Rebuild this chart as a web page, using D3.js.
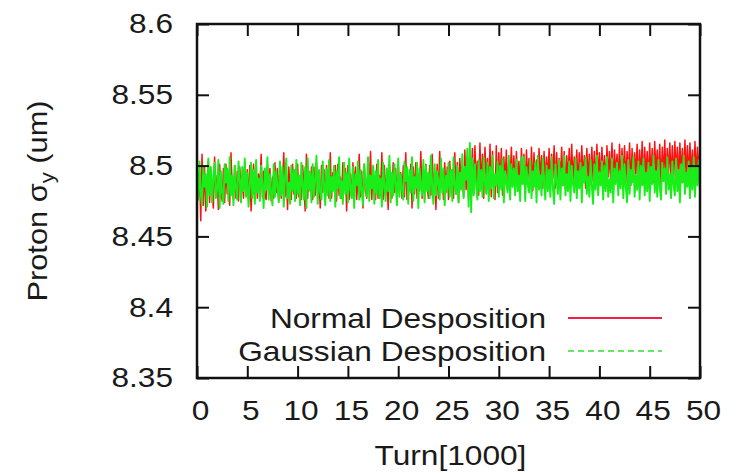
<!DOCTYPE html>
<html>
<head>
<meta charset="utf-8">
<script src="https://d3js.org/d3.v7.min.js"></script>
<style>
    body { margin: 0; background: #fff; }
    text { font-family: "Liberation Sans", Arial, sans-serif; fill: #1a1a1a; }
</style>
</head>
<body>
<div id="my_dataviz"></div>
<script>
// axis ticks
var xTicks = [0, 5, 10, 15, 20, 25, 30, 35, 40, 45, 50];
var yTicks = [8.35, 8.4, 8.45, 8.5, 8.55, 8.6];
var yTickLabels = ["8.35", "8.4", "8.45", "8.5", "8.55", "8.6"];
var turnRange = [0, 50];
var seriesNames = ["Normal Desposition", "Gaussian Desposition"];

// Normal desposition, sigma_y samples (evenly spaced over 0..50 kturns)
var normalSigma = [
    8.504, 8.476, 8.495, 8.461, 8.508, 8.472, 8.499, 8.468, 8.486, 8.503, 8.474, 8.497, 8.481, 8.470, 8.506, 8.478, 8.493, 8.469, 8.501, 8.483,
    8.475, 8.498, 8.474, 8.501, 8.480, 8.494, 8.472, 8.509, 8.485, 8.476, 8.500, 8.477, 8.496, 8.475, 8.499, 8.482, 8.490, 8.477, 8.502, 8.479,
    8.497, 8.476, 8.500, 8.468, 8.488, 8.501, 8.476, 8.499, 8.477, 8.494, 8.483, 8.508, 8.478, 8.496, 8.479, 8.476, 8.500, 8.486, 8.498, 8.475,
    8.492, 8.477, 8.502, 8.481, 8.498, 8.475, 8.500, 8.477, 8.489, 8.509, 8.478, 8.495, 8.469, 8.499, 8.484, 8.476, 8.501, 8.480, 8.497, 8.477,
    8.501, 8.478, 8.493, 8.476, 8.500, 8.486, 8.468, 8.508, 8.477, 8.496, 8.482, 8.499, 8.476, 8.499, 8.479, 8.502, 8.477, 8.491, 8.470, 8.500,
    8.481, 8.497, 8.476, 8.500, 8.487, 8.477, 8.509, 8.477, 8.495, 8.484, 8.500, 8.475, 8.501, 8.479, 8.492, 8.477, 8.502, 8.483, 8.498, 8.468,
    8.500, 8.476, 8.494, 8.477, 8.502, 8.485, 8.499, 8.476, 8.490, 8.508, 8.478, 8.496, 8.470, 8.501, 8.482, 8.477, 8.500, 8.487, 8.510, 8.476,
    8.497, 8.480, 8.476, 8.501, 8.477, 8.493, 8.484, 8.509, 8.476, 8.500, 8.479, 8.496, 8.469, 8.501, 8.486, 8.477, 8.502, 8.481, 8.498, 8.476,
    8.502, 8.483, 8.495, 8.477, 8.500, 8.478, 8.509, 8.476, 8.492, 8.485, 8.501, 8.470, 8.499, 8.480, 8.502, 8.477, 8.494, 8.482, 8.510, 8.477,
    8.498, 8.476, 8.501, 8.486, 8.477, 8.500, 8.479, 8.508, 8.483, 8.496, 8.469, 8.501, 8.477, 8.510, 8.485, 8.493, 8.476, 8.502, 8.481, 8.499,
    8.476, 8.503, 8.484, 8.497, 8.477, 8.509, 8.480, 8.502, 8.474, 8.505, 8.487, 8.494, 8.478, 8.511, 8.483, 8.499, 8.476, 8.508, 8.486, 8.512,
    8.480, 8.514, 8.488, 8.503, 8.479, 8.516, 8.484, 8.508, 8.477, 8.513, 8.490, 8.505, 8.482, 8.515, 8.478, 8.510, 8.486, 8.476, 8.514, 8.481,
    8.509, 8.485, 8.512, 8.479, 8.506, 8.488, 8.511, 8.483, 8.504, 8.490, 8.513, 8.486, 8.507, 8.482, 8.510, 8.489, 8.503, 8.484, 8.512, 8.487,
    8.508, 8.483, 8.511, 8.490, 8.505, 8.486, 8.513, 8.482, 8.509, 8.488, 8.504, 8.485, 8.512, 8.491, 8.507, 8.484, 8.510, 8.487, 8.506, 8.489,
    8.512, 8.485, 8.508, 8.491, 8.514, 8.484, 8.509, 8.488, 8.505, 8.492, 8.513, 8.486, 8.510, 8.483, 8.507, 8.490, 8.512, 8.487, 8.515, 8.489,
    8.506, 8.492, 8.511, 8.485, 8.509, 8.488, 8.514, 8.490, 8.507, 8.484, 8.512, 8.491, 8.508, 8.487, 8.513, 8.489, 8.510, 8.486, 8.515, 8.492,
    8.509, 8.487, 8.513, 8.490, 8.507, 8.485, 8.514, 8.492, 8.510, 8.488, 8.516, 8.486, 8.511, 8.493, 8.508, 8.489, 8.515, 8.487, 8.512, 8.491,
    8.514, 8.488, 8.510, 8.492, 8.516, 8.486, 8.512, 8.490, 8.509, 8.494, 8.515, 8.488, 8.511, 8.491, 8.517, 8.487, 8.513, 8.493, 8.510, 8.489,
    8.516, 8.491, 8.512, 8.488, 8.517, 8.494, 8.511, 8.490, 8.515, 8.487, 8.513, 8.492, 8.518, 8.489, 8.512, 8.495, 8.516, 8.490, 8.514, 8.488,
    8.517, 8.493, 8.513, 8.490, 8.516, 8.495, 8.512, 8.489, 8.518, 8.492, 8.514, 8.491, 8.516, 8.494, 8.511, 8.490, 8.517, 8.493, 8.513, 8.492,
    8.515
];

// Gaussian desposition
var gaussianSigma = [
    8.497, 8.476, 8.503, 8.480, 8.472, 8.500, 8.485, 8.494, 8.471, 8.505, 8.479, 8.499, 8.474, 8.492, 8.502, 8.477, 8.483, 8.504, 8.470, 8.496,
    8.481, 8.473, 8.501, 8.488, 8.498, 8.475, 8.506, 8.479, 8.493, 8.472, 8.500, 8.484, 8.476, 8.503, 8.490, 8.474, 8.499, 8.482, 8.505, 8.478,
    8.495, 8.471, 8.486, 8.502, 8.477, 8.497, 8.473, 8.504, 8.481, 8.491, 8.475, 8.500, 8.487, 8.470, 8.498, 8.483, 8.506, 8.476, 8.494, 8.480,
    8.472, 8.501, 8.478, 8.496, 8.485, 8.474, 8.503, 8.479, 8.499, 8.471, 8.492, 8.505, 8.477, 8.488, 8.473, 8.500, 8.482, 8.497, 8.475, 8.504,
    8.480, 8.493, 8.472, 8.502, 8.486, 8.476, 8.499, 8.470, 8.505, 8.483, 8.495, 8.474, 8.501, 8.478, 8.490, 8.507, 8.473, 8.497, 8.481, 8.476,
    8.503, 8.487, 8.472, 8.498, 8.479, 8.504, 8.475, 8.492, 8.482, 8.500, 8.471, 8.496, 8.484, 8.506, 8.477, 8.489, 8.473, 8.502, 8.480, 8.495,
    8.474, 8.505, 8.483, 8.477, 8.499, 8.470, 8.494, 8.486, 8.503, 8.476, 8.497, 8.481, 8.472, 8.501, 8.488, 8.478, 8.506, 8.475, 8.493, 8.484,
    8.500, 8.473, 8.496, 8.480, 8.504, 8.477, 8.491, 8.471, 8.502, 8.485, 8.475, 8.498, 8.482, 8.507, 8.474, 8.495, 8.479, 8.501, 8.487, 8.472,
    8.505, 8.478, 8.494, 8.483, 8.476, 8.503, 8.489, 8.499, 8.473, 8.497, 8.481, 8.506, 8.475, 8.492, 8.484, 8.502, 8.470, 8.498, 8.486, 8.479,
    8.504, 8.474, 8.500, 8.482, 8.495, 8.477, 8.507, 8.485, 8.473, 8.501, 8.479, 8.496, 8.488, 8.476, 8.505, 8.481, 8.498, 8.472, 8.493, 8.483,
    8.502, 8.478, 8.497, 8.475, 8.506, 8.486, 8.480, 8.500, 8.474, 8.495, 8.483, 8.508, 8.477, 8.499, 8.490, 8.512, 8.471, 8.516, 8.467, 8.505,
    8.479, 8.501, 8.485, 8.476, 8.504, 8.482, 8.497, 8.478, 8.506, 8.488, 8.480, 8.502, 8.475, 8.499, 8.484, 8.507, 8.477, 8.494, 8.486, 8.503,
    8.478, 8.500, 8.483, 8.505, 8.474, 8.496, 8.488, 8.481, 8.507, 8.476, 8.501, 8.485, 8.498, 8.479, 8.504, 8.482, 8.493, 8.475, 8.506, 8.487,
    8.506, 8.475, 8.499, 8.487, 8.481, 8.504, 8.477, 8.496, 8.485, 8.502, 8.474, 8.507, 8.483, 8.493, 8.479, 8.505, 8.488, 8.476, 8.500, 8.482,
    8.497, 8.478, 8.506, 8.484, 8.473, 8.501, 8.489, 8.480, 8.504, 8.476, 8.498, 8.486, 8.507, 8.479, 8.494, 8.482, 8.503, 8.475, 8.500, 8.487,
    8.481, 8.505, 8.477, 8.496, 8.484, 8.502, 8.474, 8.499, 8.488, 8.506, 8.480, 8.492, 8.478, 8.504, 8.485, 8.473, 8.501, 8.483, 8.507, 8.479,
    8.495, 8.486, 8.503, 8.476, 8.500, 8.482, 8.506, 8.478, 8.490, 8.481, 8.505, 8.474, 8.498, 8.487, 8.502, 8.479, 8.496, 8.484, 8.507, 8.477,
    8.501, 8.485, 8.474, 8.504, 8.480, 8.497, 8.488, 8.506, 8.478, 8.493, 8.483, 8.503, 8.476, 8.500, 8.486, 8.505, 8.479, 8.495, 8.482, 8.502,
    8.475, 8.499, 8.487, 8.507, 8.481, 8.496, 8.478, 8.504, 8.484, 8.476, 8.502, 8.489, 8.498, 8.480, 8.506, 8.483, 8.494, 8.477, 8.503, 8.486,
    8.479, 8.505, 8.482, 8.497, 8.474, 8.501, 8.488, 8.507, 8.480, 8.495, 8.485, 8.503, 8.477, 8.499, 8.483, 8.506, 8.478, 8.500, 8.486, 8.504,
    8.481
];

var colors = ["#ff1010", "#19ee19"];
var strokeWidths = [1.5, 1.9];

function drawChart() {

    // set the dimensions and margins of the graph
    var margin = { top: 24, right: 43, bottom: 95, left: 197 },
        width = 743 - margin.left - margin.right,
        height = 473 - margin.top - margin.bottom;

    var root = d3.select("#my_dataviz")
        .append("svg")
        .attr("width", width + margin.left + margin.right)
        .attr("height", height + margin.top + margin.bottom);

    var svg = root.append("g")
        .attr("transform", "translate(" + margin.left + "," + margin.top + ")");

    var x = d3.scaleLinear().domain(turnRange).range([0, width]);
    var y = d3.scaleLinear().domain([yTicks[0], yTicks[yTicks.length - 1]]).range([height, 0]);

    // clip the noisy traces to the frame
    svg.append("clipPath").attr("id", "clip")
        .append("rect").attr("width", width).attr("height", height);

    // the traces: red first, green drawn over it
    var series = [normalSigma, gaussianSigma];
    series.forEach(function (vals, k) {
        var step = (turnRange[1] - turnRange[0]) / (vals.length - 1);
        var line = d3.line()
            .x(function (d, i) { return x(turnRange[0] + i * step); })
            .y(function (d) { return y(d); });
        svg.append("path")
            .datum(vals)
            .attr("clip-path", "url(#clip)")
            .attr("fill", "none")
            .attr("stroke", colors[k])
            .attr("stroke-width", strokeWidths[k])
            .attr("stroke-linejoin", "round")
            .attr("d", line);
    });

    // axes, gnuplot style ticks pointing inward on all four sides
    var xAxis = svg.append("g").attr("class", "axis")
        .attr("transform", "translate(0," + height + ")")
        .call(d3.axisBottom(x).tickValues(xTicks).tickSize(-12).tickSizeOuter(0).tickPadding(22));
    var yAxis = svg.append("g").attr("class", "axis")
        .call(d3.axisLeft(y).tickValues(yTicks).tickSize(-12).tickSizeOuter(0).tickPadding(22)
            .tickFormat(function (d, i) { return yTickLabels[i]; }));
    svg.append("g").attr("class", "axis")
        .call(d3.axisTop(x).tickValues(xTicks).tickSize(-12).tickSizeOuter(0).tickFormat(""));
    svg.append("g").attr("class", "axis")
        .attr("transform", "translate(" + width + ",0)")
        .call(d3.axisRight(y).tickValues(yTicks).tickSize(-12).tickSizeOuter(0).tickFormat(""));

    svg.selectAll(".axis .domain").remove();
    svg.selectAll(".axis line").attr("stroke", "#111").attr("stroke-width", 2);
    svg.selectAll(".axis text")
        .style("font-size", "28px")
        .style("font-family", "'Liberation Sans', Arial, sans-serif")
        .attr("fill", "#1a1a1a");
    xAxis.selectAll("text").attr("dx", 3);
    yAxis.selectAll("text").attr("dx", -2);

    // frame
    svg.append("rect")
        .attr("width", width).attr("height", height)
        .attr("fill", "none").attr("stroke", "#111").attr("stroke-width", 2.5);

    // legend
    var legend = svg.selectAll(".legend")
        .data(seriesNames)
        .enter().append("g")
        .attr("class", "legend")
        .attr("transform", function (d, i) { return "translate(0," + (i * 33) + ")"; });

    legend.append("text")
        .attr("class", "stretch")
        .attr("x", 349)
        .attr("y", 304)
        .attr("text-anchor", "end")
        .style("font-size", "28px")
        .text(function (d) { return d; });

    legend.append("line")
        .attr("x1", 371).attr("x2", 465)
        .attr("y1", 294).attr("y2", 294)
        .attr("stroke", function (d, i) { return i === 0 ? "#f0204a" : "#33e033"; })
        .attr("stroke-width", function (d, i) { return i === 0 ? 2.2 : 1.6; })
        .attr("stroke-dasharray", function (d, i) { return i === 0 ? null : "6,4"; });

    // axis labels
    svg.append("text")
        .attr("class", "stretch")
        .attr("x", width / 2 + 2)
        .attr("y", height + 87)
        .attr("text-anchor", "middle")
        .style("font-size", "28px")
        .text("Turn[1000]");

    var yTitle = root.append("text")
        .attr("transform", "translate(47," + (margin.top + height / 2) + ") rotate(-90)")
        .attr("text-anchor", "middle")
        .style("font-size", "28px");
    yTitle.append("tspan").text("Proton σ");
    yTitle.append("tspan").attr("dy", 7).style("font-size", "20px").text("y");
    yTitle.append("tspan").attr("dy", -7).text(" (um)");

    // the reference lettering is wider than the font, stretch it a bit
    root.selectAll(".axis text, text.stretch").each(function () {
        var w = this.getComputedTextLength();
        d3.select(this).attr("textLength", w * 1.13).attr("lengthAdjust", "spacingAndGlyphs");
    });
    var tw = yTitle.node().getComputedTextLength();
    yTitle.attr("textLength", tw * 1.1).attr("lengthAdjust", "spacingAndGlyphs");
}

drawChart();
</script>
</body>
</html>
